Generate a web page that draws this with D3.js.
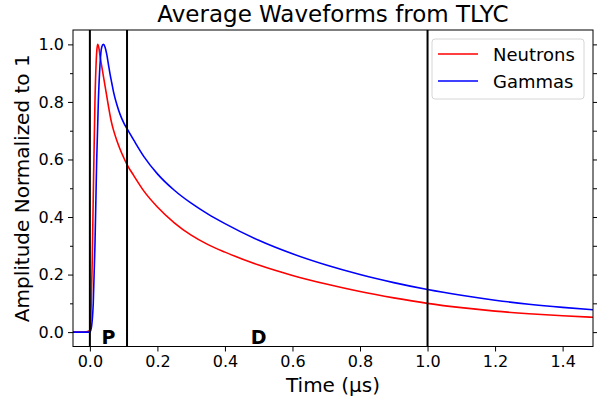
<!DOCTYPE html>
<html>
<head>
<meta charset="utf-8">
<script src="https://cdn.jsdelivr.net/npm/d3@7"></script>
<style>
  html, body { margin: 0; padding: 0; background: #fff; }
  svg { display: block; font-family: "DejaVu Sans", sans-serif; }
</style>
</head>
<body>
<svg id="chart" width="600" height="400"></svg>
<script>
// ---- data ----
const neutronTime = [-0.05, -0.02, 0.0, 0.003, 0.007, 0.01, 0.015, 0.02, 0.023, 0.027, 0.03, 0.035, 0.04, 0.045, 0.05, 0.055, 0.06, 0.065, 0.07, 0.08, 0.09, 0.1, 0.11, 0.13, 0.16, 0.2, 0.25, 0.3, 0.35, 0.4, 0.5, 0.6, 0.7, 0.8, 0.9, 1.0, 1.1, 1.2, 1.3, 1.4, 1.5];
const neutrons    = [0, 0, 0.005, 0.05, 0.25, 0.47, 0.8, 0.97, 1.0, 0.985, 0.96, 0.925, 0.89, 0.855, 0.82, 0.785, 0.752, 0.724, 0.702, 0.665, 0.634, 0.607, 0.582, 0.544, 0.49, 0.435, 0.38, 0.337, 0.304, 0.278, 0.233, 0.197, 0.167, 0.141, 0.119, 0.100, 0.085, 0.073, 0.064, 0.057, 0.051];
const gammaTime   = [-0.05, -0.02, 0.0, 0.005, 0.01, 0.015, 0.02, 0.025, 0.03, 0.035, 0.04, 0.045, 0.05, 0.055, 0.06, 0.065, 0.07, 0.08, 0.09, 0.1, 0.11, 0.13, 0.16, 0.2, 0.25, 0.3, 0.35, 0.4, 0.5, 0.6, 0.7, 0.8, 0.9, 1.0, 1.1, 1.2, 1.3, 1.4, 1.5];
const gammas      = [0, 0, 0.0, 0.02, 0.1, 0.3, 0.59, 0.8, 0.93, 0.99, 1.0, 0.99, 0.965, 0.93, 0.895, 0.865, 0.835, 0.79, 0.755, 0.728, 0.707, 0.667, 0.61, 0.55, 0.493, 0.448, 0.41, 0.377, 0.319, 0.272, 0.233, 0.2, 0.172, 0.148, 0.128, 0.111, 0.097, 0.086, 0.077];
const regionLines = [0.0, 0.11, 1.0];
const regionLabels = ["P", "D"];
const regionLabelX = [0.055, 0.5];
const xTicks = [0.0, 0.2, 0.4, 0.6, 0.8, 1.0, 1.2, 1.4];
const yTicks = [0.0, 0.2, 0.4, 0.6, 0.8, 1.0];
const yMinorTicks = [0.1, 0.3, 0.5, 0.7, 0.9];
const yRightTicks = [0.0, 0.1, 0.2, 0.3, 0.4, 0.5, 0.6, 0.7, 0.8, 0.9, 1.0];
const seriesNames = ["Neutrons", "Gammas"];
const seriesColors = ["#ff0000", "#0000ff"];

// ---- layout ----
const svg = d3.select("#chart");
const L = 73, R = 593, T = 30, B = 346.5;
const x = d3.scaleLinear().domain([-0.05, 1.49]).range([L, R]);
const y = d3.scaleLinear().domain([-0.05, 1.05]).range([B, T]);

svg.append("clipPath").attr("id", "clip")
  .append("rect").attr("x", L).attr("y", T).attr("width", R - L).attr("height", B - T);

const plot = svg.append("g").attr("clip-path", "url(#clip)");

const line = d3.line().curve(d3.curveMonotoneX)
  .x(d => x(d[0])).y(d => y(d[1]));

const seriesData = [
  d3.zip(neutronTime, neutrons),
  d3.zip(gammaTime, gammas)
];

seriesData.forEach((data, i) => {
  plot.append("path").datum(data)
    .attr("fill", "none")
    .attr("stroke", seriesColors[i])
    .attr("stroke-width", 1.6)
    .attr("d", line);
});

// vertical region lines
plot.selectAll(".vline").data(regionLines).enter().append("line")
  .attr("x1", d => x(d)).attr("x2", d => x(d))
  .attr("y1", T).attr("y2", B)
  .attr("stroke", "#000").attr("stroke-width", 2);

// region labels
svg.selectAll(".rlab").data(regionLabels).enter().append("text")
  .attr("x", (d, i) => x(regionLabelX[i]))
  .attr("y", y(-0.04))
  .attr("text-anchor", "middle")
  .attr("font-weight", "bold")
  .attr("font-size", 19)
  .text(d => d);

// axes
const xAxis = d3.axisBottom(x).tickValues(xTicks).tickFormat(d3.format(".1f")).tickSize(5).tickPadding(4);
const gx = svg.append("g").attr("transform", `translate(0,${B})`).call(xAxis);
gx.select(".domain").remove();
gx.selectAll("text").attr("font-size", 16).attr("font-family", "DejaVu Sans").attr("fill", "#000");
gx.selectAll("line").attr("stroke", "#000");

const yAxis = d3.axisLeft(y).tickValues(yTicks).tickFormat(d3.format(".1f")).tickSize(5).tickPadding(4);
const gy = svg.append("g").attr("transform", `translate(${L},0)`).call(yAxis);
gy.select(".domain").remove();
gy.selectAll("text").attr("font-size", 16).attr("font-family", "DejaVu Sans").attr("fill", "#000");
gy.selectAll("line").attr("stroke", "#000");

const yMinor = d3.axisLeft(y).tickValues(yMinorTicks).tickFormat("").tickSize(3);
const gym = svg.append("g").attr("transform", `translate(${L},0)`).call(yMinor);
gym.select(".domain").remove();
gym.selectAll("line").attr("stroke", "#000");

const yRight = d3.axisRight(y).tickValues(yRightTicks).tickFormat("").tickSize(4);
const gyr = svg.append("g").attr("transform", `translate(${R},0)`).call(yRight);
gyr.select(".domain").remove();
gyr.selectAll("line").attr("stroke", "#000");

// frame
svg.append("rect").attr("x", L).attr("y", T).attr("width", R - L).attr("height", B - T)
  .attr("fill", "none").attr("stroke", "#000").attr("stroke-width", 1);

// title & labels
svg.append("text").attr("x", (L + R) / 2).attr("y", 22).attr("text-anchor", "middle")
  .attr("font-size", 23).text("Average Waveforms from TLYC");
svg.append("text").attr("x", (L + R) / 2).attr("y", 392).attr("text-anchor", "middle")
  .attr("font-size", 20).text("Time (µs)");
svg.append("text").attr("transform", `translate(29,${(T + B) / 2}) rotate(-90)`)
  .attr("text-anchor", "middle").attr("font-size", 20).text("Amplitude Normalized to 1");

// legend
const lg = svg.append("g");
lg.append("rect").attr("x", 432).attr("y", 39).attr("width", 152).attr("height", 60)
  .attr("rx", 3).attr("fill", "#fff").attr("fill-opacity", 0.8)
  .attr("stroke", "#d6d6d6").attr("stroke-width", 1);
seriesNames.forEach((name, i) => {
  const cy = 54 + i * 27;
  lg.append("line").attr("x1", 438).attr("x2", 478).attr("y1", cy).attr("y2", cy)
    .attr("stroke", seriesColors[i]).attr("stroke-width", 1.6);
  lg.append("text").attr("x", 493).attr("y", cy + 7).attr("font-size", 18).text(name);
});
</script>
</body>
</html>
